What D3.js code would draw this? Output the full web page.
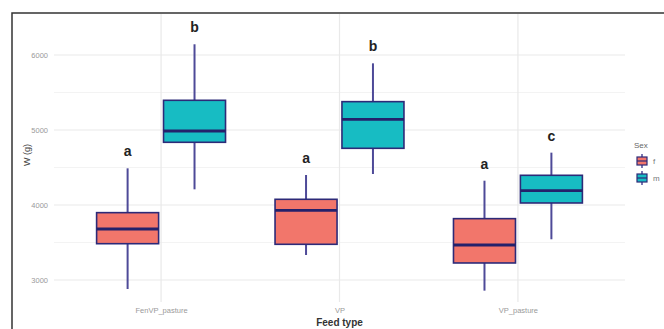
<!DOCTYPE html>
<html>
<head>
<meta charset="utf-8">
<script src="https://d3js.org/d3.v7.min.js"></script>
<style>
  body { margin: 0; background: #fff; }
  svg { display: block; font-family: "Liberation Sans", Arial, sans-serif; }
</style>
</head>
<body>
<div id="my_dataviz"></div>
<script>
// feed types and sexes
var feeds = ["FenVP_pasture", "VP", "VP_pasture"];
var sexes = ["f", "m"];

// box stats per sex, one value per feed type
var lowF = [2880, 3333, 2858];
var q1F = [3484, 3476, 3227];
var medF = [3680, 3929, 3467];
var q3F = [3898, 4076, 3818];
var highF = [4489, 4400, 4324];

var lowM = [4209, 4413, 3543];
var q1M = [4836, 4756, 4027];
var medM = [4987, 5142, 4191];
var q3M = [5396, 5378, 4396];
var highM = [6143, 5889, 4698];

// letters from the post-hoc test
var lettersF = ["a", "a", "a"];
var lettersM = ["b", "b", "c"];

var yTicks = [3000, 4000, 5000, 6000];
var yMinor = [3500, 4500, 5500];

var colors = { f: "#f2766b", m: "#17bcc3" };
var outline = "#2d2a78";
var whisk = "#4e4a98";

var W = 664, H = 329;
var panel = { left: 54, right: 625, top: 14, bottom: 302 };

var svg = d3.select("#my_dataviz").append("svg")
    .attr("width", W).attr("height", H);

// frame around the figure
svg.append("path")
    .attr("d", "M12," + H + "V13H" + W)
    .attr("fill", "none").attr("stroke", "#333").attr("stroke-width", 1.5);

var x = d3.scalePoint().domain(feeds).range([panel.left, panel.right]).padding(0.6);
var step = x.step();
var xs = d3.scaleBand().domain(sexes).range([-0.375 * step, 0.375 * step]);
var boxW = 62;

var y = d3.scaleLinear().domain([3000, 6000]).range([280, 55]);

// grid
var grid = svg.append("g");
grid.selectAll(".minor").data(yMinor).enter().append("line")
    .attr("x1", panel.left).attr("x2", panel.right)
    .attr("y1", function (d) { return y(d); }).attr("y2", function (d) { return y(d); })
    .attr("stroke", "#f3f3f3").attr("stroke-width", 1);
grid.selectAll(".major").data(yTicks).enter().append("line")
    .attr("x1", panel.left).attr("x2", panel.right)
    .attr("y1", function (d) { return y(d); }).attr("y2", function (d) { return y(d); })
    .attr("stroke", "#e9e9e9").attr("stroke-width", 1.2);
grid.selectAll(".vx").data(feeds).enter().append("line")
    .attr("x1", function (d) { return x(d); }).attr("x2", function (d) { return x(d); })
    .attr("y1", panel.top).attr("y2", panel.bottom)
    .attr("stroke", "#e9e9e9").attr("stroke-width", 1.2);

// axes (text only, ggplot minimal style)
var yAxis = svg.append("g")
    .attr("transform", "translate(" + (panel.left - 3) + ",0)")
    .call(d3.axisLeft(y).tickValues(yTicks).tickFormat(d3.format("d")).tickSize(0).tickPadding(3));
yAxis.select(".domain").remove();
yAxis.selectAll("text").attr("fill", "#9a9a9a").style("font-size", "7.5px");

var xAxis = svg.append("g")
    .attr("transform", "translate(0," + (panel.bottom + 4) + ")")
    .call(d3.axisBottom(x).tickSize(0).tickPadding(2));
xAxis.select(".domain").remove();
xAxis.selectAll("text").attr("fill", "#9a9a9a").style("font-size", "7.5px");

svg.append("text")
    .attr("x", x("VP")).attr("y", 326)
    .attr("text-anchor", "middle").attr("fill", "#333")
    .style("font-size", "10px").style("font-weight", "bold")
    .text("Feed type");

svg.append("text")
    .attr("transform", "translate(30,155)rotate(-90)")
    .attr("text-anchor", "middle").attr("fill", "#444")
    .style("font-size", "9px")
    .text("W (g)");

// build the table of boxes
var boxes = [];
feeds.forEach(function (f, i) {
    boxes.push({ feed: f, sex: "f", low: lowF[i], q1: q1F[i], med: medF[i], q3: q3F[i], high: highF[i], letter: lettersF[i] });
    boxes.push({ feed: f, sex: "m", low: lowM[i], q1: q1M[i], med: medM[i], q3: q3M[i], high: highM[i], letter: lettersM[i] });
});

var g = svg.selectAll(".box").data(boxes).enter().append("g")
    .attr("transform", function (d) {
        return "translate(" + (x(d.feed) + xs(d.sex) + xs.bandwidth() / 2) + ",0)";
    });

g.append("line")
    .attr("y1", function (d) { return y(d.high); })
    .attr("y2", function (d) { return y(d.q3); })
    .attr("stroke", whisk).attr("stroke-width", 2);
g.append("line")
    .attr("y1", function (d) { return y(d.q1); })
    .attr("y2", function (d) { return y(d.low); })
    .attr("stroke", whisk).attr("stroke-width", 2);
g.append("rect")
    .attr("x", -boxW / 2).attr("width", boxW)
    .attr("y", function (d) { return y(d.q3); })
    .attr("height", function (d) { return y(d.q1) - y(d.q3); })
    .attr("fill", function (d) { return colors[d.sex]; })
    .attr("stroke", outline).attr("stroke-width", 1.6);
g.append("line")
    .attr("x1", -boxW / 2).attr("x2", boxW / 2)
    .attr("y1", function (d) { return y(d.med); })
    .attr("y2", function (d) { return y(d.med); })
    .attr("stroke", "#24216b").attr("stroke-width", 2.8);
g.append("text")
    .attr("y", function (d) { return y(d.high) - 12; })
    .attr("text-anchor", "middle").attr("fill", "#222")
    .style("font-size", "14px").style("font-weight", "bold")
    .text(function (d) { return d.letter; });

// legend
var leg = svg.append("g").attr("transform", "translate(634,0)");
leg.append("text").attr("x", 0).attr("y", 148)
    .attr("fill", "#666").style("font-size", "8px").text("Sex");
var key = leg.selectAll(".key").data(sexes).enter().append("g")
    .attr("transform", function (d, i) { return "translate(8," + (161 + i * 17) + ")"; });
key.append("line").attr("y1", -7).attr("y2", 7)
    .attr("stroke", whisk).attr("stroke-width", 1.5);
key.append("rect").attr("x", -5).attr("y", -4).attr("width", 10).attr("height", 8)
    .attr("fill", function (d) { return colors[d]; })
    .attr("stroke", outline).attr("stroke-width", 1.2);
key.append("line").attr("x1", -5).attr("x2", 5)
    .attr("stroke", outline).attr("stroke-width", 1.2);
key.append("text").attr("x", 11).attr("y", 3)
    .attr("fill", "#777").style("font-size", "8px")
    .text(function (d) { return d; });
</script>
</body>
</html>
